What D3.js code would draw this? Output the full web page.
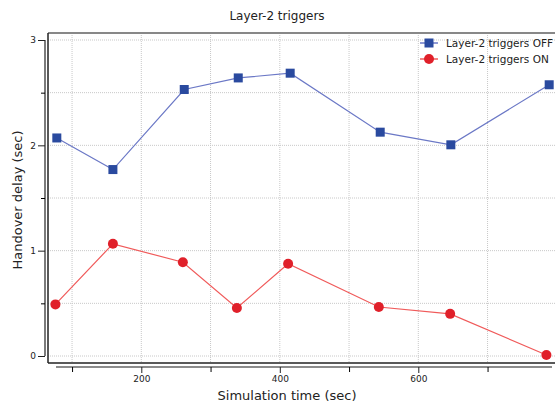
<!DOCTYPE html>
<html>
<head>
<meta charset="utf-8">
<script src="https://cdn.jsdelivr.net/npm/d3@7"></script>
<style>
  body { margin: 0; background: #fff; }
  svg text { font-family: "DejaVu Sans", sans-serif; fill: #222; }
</style>
</head>
<body>
<svg id="chart" width="555" height="404"></svg>
<script>
// data
const timesOff = [78, 159, 262, 340, 415, 545, 647, 789];
const delayOff = [2.07, 1.77, 2.53, 2.64, 2.685, 2.125, 2.005, 2.575];
const timesOn = [76, 159, 260, 338, 412, 543, 646, 785];
const delayOn = [0.49, 1.065, 0.89, 0.455, 0.875, 0.465, 0.4, 0.01];
const xTicks = [200, 400, 600];
const xMinor = [100, 300, 500, 700];
const yTicks = [0, 1, 2, 3];
const yMinor = [0.5, 1.5, 2.5];
const seriesNames = ["Layer-2 triggers OFF", "Layer-2 triggers ON"];

const svg = d3.select("#chart");

// scales
const x = d3.scaleLinear().domain([0, 600]).range([2.8, 418.3]);
const y = d3.scaleLinear().domain([0, 3]).range([356, 40]);

const frame = { left: 48, top: 33, right: 557, bottom: 363 };

// Grid
const grid = svg.append("g");
xTicks.concat(xMinor).forEach(v => {
    grid.append("line")
        .attr("x1", x(v)).attr("x2", x(v))
        .attr("y1", frame.top).attr("y2", frame.bottom)
        .attr("stroke", "#c8c8c8").attr("stroke-dasharray", "1,1");
});
yTicks.concat(yMinor).forEach(v => {
    grid.append("line")
        .attr("x1", frame.left).attr("x2", frame.right)
        .attr("y1", y(v)).attr("y2", y(v))
        .attr("stroke", "#c8c8c8").attr("stroke-dasharray", "1,1");
});

// Frame
svg.append("line").attr("x1", frame.left).attr("x2", frame.right)
    .attr("y1", frame.top).attr("y2", frame.top)
    .attr("stroke", "#888").attr("stroke-width", 2);
svg.append("line").attr("x1", frame.left).attr("x2", frame.left)
    .attr("y1", frame.top).attr("y2", frame.bottom)
    .attr("stroke", "#222").attr("stroke-width", 1.5);
svg.append("line").attr("x1", frame.left).attr("x2", frame.right)
    .attr("y1", frame.bottom).attr("y2", frame.bottom)
    .attr("stroke", "#222").attr("stroke-width", 1.5);

// Y axis (offset)
const yAxis = svg.append("g").attr("transform", "translate(45,0)")
    .call(d3.axisLeft(y).tickValues(yTicks).tickSize(7).tickFormat(d3.format("d")));
svg.append("g").attr("transform", "translate(45,0)")
    .call(d3.axisLeft(y).tickValues(yMinor).tickSize(4).tickFormat(""))
    .select(".domain").remove();
yAxis.select(".domain").attr("stroke", "#222").attr("stroke-width", 1.2)
    .attr("d", `M0,${y(3)}V${y(0)}`);
yAxis.selectAll(".tick line").attr("stroke", "#222");
yAxis.selectAll(".tick text").attr("font-size", 9).attr("x", -9);

// X axis (offset)
const xAxis = svg.append("g").attr("transform", "translate(0,367)")
    .call(d3.axisBottom(x).tickValues(xTicks).tickSize(6).tickFormat(d3.format("d")));
svg.append("g").attr("transform", "translate(0,367)")
    .call(d3.axisBottom(x).tickValues(xMinor).tickSize(5).tickFormat(""))
    .select(".domain").remove();
xAxis.select(".domain").attr("stroke", "#666").attr("stroke-width", 1.5)
    .attr("d", `M56,0H552`);
xAxis.selectAll(".tick line").attr("stroke", "#222");
xAxis.selectAll(".tick text").attr("font-size", 9).attr("y", 9);

// Title and axis labels
svg.append("text").attr("x", 277).attr("y", 20).attr("text-anchor", "middle")
    .attr("font-size", 12).text("Layer-2 triggers");
svg.append("text").attr("x", 287).attr("y", 400).attr("text-anchor", "middle")
    .attr("font-size", 13).text("Simulation time (sec)");
svg.append("text").attr("transform", "translate(22,200) rotate(-90)")
    .attr("text-anchor", "middle").attr("font-size", 13).text("Handover delay (sec)");

// Series
const line = d3.line().x(d => x(d[0])).y(d => y(d[1]));
const off = d3.zip(timesOff, delayOff);
const on = d3.zip(timesOn, delayOn);

svg.append("path").datum(off).attr("d", line)
    .attr("fill", "none").attr("stroke", "#6b78c6").attr("stroke-width", 1.2);
svg.append("path").datum(on).attr("d", line)
    .attr("fill", "none").attr("stroke", "#f05a5a").attr("stroke-width", 1.2);

svg.append("g").selectAll("rect").data(off).join("rect")
    .attr("x", d => x(d[0]) - 4.5).attr("y", d => y(d[1]) - 4.5)
    .attr("width", 9).attr("height", 9).attr("fill", "#2a4a9f");
svg.append("g").selectAll("circle").data(on).join("circle")
    .attr("cx", d => x(d[0])).attr("cy", d => y(d[1])).attr("r", 5)
    .attr("fill", "#e0202a");

// Legend
const legend = svg.append("g").attr("transform", "translate(420,43)");
legend.append("line").attr("x1", 0).attr("x2", 18).attr("y1", 0).attr("y2", 0)
    .attr("stroke", "#6b78c6").attr("stroke-width", 1.5);
legend.append("rect").attr("x", 4.5).attr("y", -4.5).attr("width", 9).attr("height", 9)
    .attr("fill", "#2a4a9f");
legend.append("text").attr("x", 26).attr("y", 4).attr("font-size", 10.5).text(seriesNames[0]);
legend.append("line").attr("x1", 0).attr("x2", 18).attr("y1", 16).attr("y2", 16)
    .attr("stroke", "#f05a5a").attr("stroke-width", 1.5);
legend.append("circle").attr("cx", 9).attr("cy", 16).attr("r", 5).attr("fill", "#e0202a");
legend.append("text").attr("x", 26).attr("y", 20).attr("font-size", 10.5).text(seriesNames[1]);
</script>
</body>
</html>
